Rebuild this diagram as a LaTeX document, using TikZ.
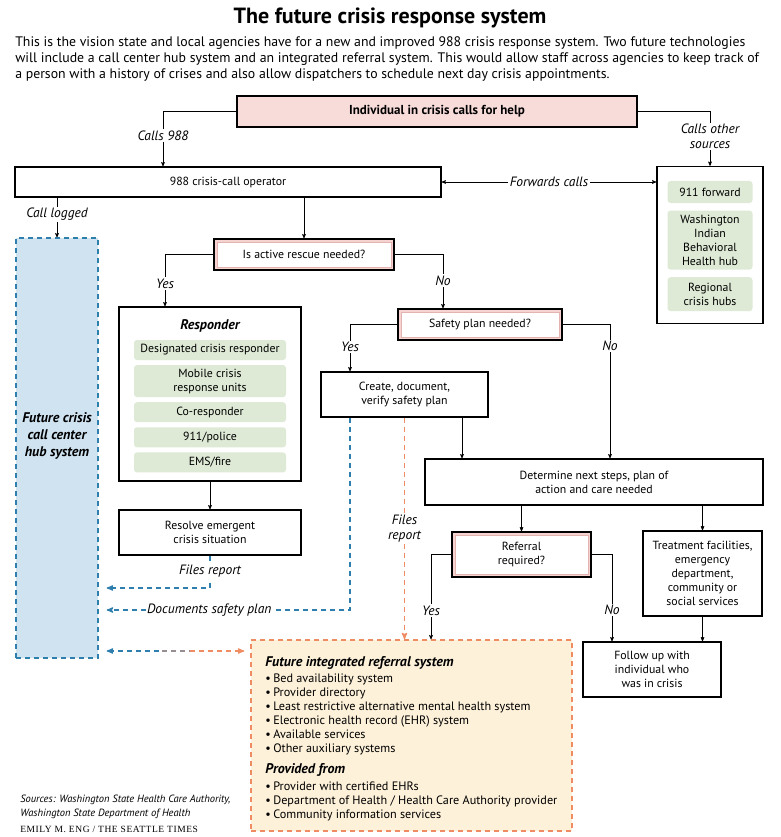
\documentclass[tikz,border=0pt]{standalone}
\usepackage{fontspec}
\setmainfont{PT Sans}
\newfontfamily\credfont[LetterSpace=6]{Liberation Serif}
\usepackage{xcolor}
\usetikzlibrary{shapes.geometric, arrows}
\usetikzlibrary{positioning,calc}

\definecolor{callpink}{HTML}{F8DCDA}
\definecolor{bandpink}{HTML}{F5D3D0}
\definecolor{bandline}{HTML}{E4B3B0}
\definecolor{itemgreen}{HTML}{DEEAD6}
\definecolor{hubblue}{HTML}{CFE3F1}
\definecolor{dashblue}{HTML}{2F7FAE}
\definecolor{dashorange}{HTML}{EF8C63}
\definecolor{refyellow}{HTML}{FDF1DA}
\definecolor{midgray}{HTML}{978E93}

\newcommand{\boxfont}{\fontsize{11.8}{14}\selectfont}
\newcommand{\lblfont}{\fontsize{13.5}{15}\selectfont\itshape}
\newcommand{\headfont}{\fontsize{14}{17}\selectfont\bfseries\itshape}
\newcommand{\bul}{\makebox[8pt][l]{•}}

\begin{document}
\begin{tikzpicture}[->,>=stealth',semithick,x=1pt,y=-1pt]
	\tikzstyle{every node}=[font=\boxfont]
	\tikzstyle{box}=[draw=black,line width=1.4pt,fill=white,align=center,inner sep=2pt]
	\tikzstyle{ask}=[box,fill=bandpink,path picture={\draw[-,draw=bandline,fill=white,line width=0.6pt] ([shift={(3pt,-3pt)}]path picture bounding box.north west) rectangle ([shift={(-3pt,3pt)}]path picture bounding box.south east);}]
	\tikzstyle{item}=[fill=itemgreen,rounded corners=3pt,align=center,inner sep=1pt]
	\tikzstyle{lbl}=[font=\lblfont,text=black,fill=white,inner sep=1.5pt,align=center]
	\tikzstyle{bluedash}=[dashblue,line width=1.3pt,dash pattern=on 5pt off 4pt]
	\tikzstyle{orangedash}=[dashorange,line width=1.3pt,dash pattern=on 5pt off 4pt]
	\useasboundingbox (0,0) rectangle (780,837);

	% title and intro
	\node[font=\fontsize{22}{25}\selectfont\bfseries] (Title) at (390,18) {The future crisis response system};
	\node[anchor=north west,align=left,inner sep=0pt,font=\fontsize{13.8}{16}\selectfont] (Intro) at (15,36)
		{This is the vision state and local agencies have for a new and improved 988 crisis response system. Two future technologies\\
		will include a call center hub system and an integrated referral system. This would allow staff across agencies to keep track of\\
		a person with a history of crises and also allow dispatchers to schedule next day crisis appointments.};

	% main boxes
	\node[box,fill=callpink,minimum width=400pt,minimum height=31pt,font=\fontsize{13}{15}\selectfont\bfseries] (Call) at (437,111.5) {Individual in crisis calls for help};
	\node[box,minimum width=426pt,minimum height=30pt] (Op) at (228,182) {988 crisis-call operator};
	\node[box,minimum width=106pt,minimum height=157pt] (Hubs) at (710,245) {};
	\node[item,minimum width=85pt,minimum height=22pt] (H1) at (710,192) {911 forward};
	\node[item,minimum width=85pt,minimum height=59pt,below=7pt of H1] (H2) {Washington\\Indian\\Behavioral\\Health hub};
	\node[item,minimum width=85pt,minimum height=34pt,below=7pt of H2] (H3) {Regional\\crisis hubs};

	\node[draw=dashblue,fill=hubblue,line width=1.3pt,dash pattern=on 5pt off 4pt,minimum width=82pt,minimum height=420pt] (Hub) at (57,448) {};
	\node[font=\headfont,align=center,fill=hubblue,inner sep=1pt] (HubT) at (57,436) {Future crisis\\call center\\hub system};

	\node[ask,minimum width=180pt,minimum height=31pt] (Rescue) at (304,254.5) {Is active rescue needed?};
	\node[box,minimum width=182pt,minimum height=174pt] (Resp) at (210,394) {};
	\node[font=\headfont] (RespT) at (210,326) {Responder};
	\node[item,minimum width=152pt,minimum height=20pt] (R1) at (210,350) {Designated crisis responder};
	\node[item,minimum width=152pt,minimum height=32pt,below=4.5pt of R1] (R2) {Mobile crisis\\response units};
	\node[item,minimum width=152pt,minimum height=20pt,below=4.5pt of R2] (R3) {Co-responder};
	\node[item,minimum width=152pt,minimum height=20pt,below=4.5pt of R3] (R4) {911/police};
	\node[item,minimum width=152pt,minimum height=20pt,below=4.5pt of R4] (R5) {EMS/fire};
	\node[box,minimum width=182pt,minimum height=45pt] (Resolve) at (210,532.5) {Resolve emergent\\crisis situation};

	\node[ask,minimum width=164pt,minimum height=31pt] (Safe) at (480,324.5) {Safety plan needed?};
	\node[box,minimum width=167pt,minimum height=45pt] (Create) at (404.5,394.5) {Create, document,\\verify safety plan};
	\node[box,minimum width=338pt,minimum height=46pt] (Det) at (594,482) {Determine next steps, plan of\\action and care needed};
	\node[ask,minimum width=139pt,minimum height=45pt] (Refq) at (521.5,554.5) {Referral\\required?};
	\node[box,minimum width=119pt,minimum height=85pt] (Treat) at (702.5,573.5) {Treatment facilities,\\emergency\\department,\\community or\\social services};
	\node[box,minimum width=138pt,minimum height=55pt] (Follow) at (652,669.5) {Follow up with\\individual who\\was in crisis};

	% referral system
	\node[draw=dashorange,fill=refyellow,line width=1.3pt,dash pattern=on 5pt off 4pt,minimum width=321pt,minimum height=191pt] (Ref) at (411.5,735.5) {};
	\node[anchor=north west,align=left,inner sep=0pt,font=\fontsize{12.2}{14}\selectfont] (RefT) at (265,656)
		{{\headfont Future integrated referral system}\\[2pt]
		\bul Bed availability system\\
		\bul Provider directory\\
		\bul Least restrictive alternative mental health system\\
		\bul Electronic health record (EHR) system\\
		\bul Available services\\
		\bul Other auxiliary systems\\[7pt]
		{\headfont Provided from}\\[3pt]
		\bul Provider with certified EHRs\\
		\bul Department of Health / Health Care Authority provider\\
		\bul Community information services};

	% credits
	\node[anchor=west,align=left,inner sep=0pt,font=\fontsize{10.5}{14}\selectfont\itshape] (Src) at (20,807) {Sources: Washington State Health Care Authority,\\Washington State Department of Health};
	\node[anchor=west,inner sep=0pt,font=\fontsize{9.5}{10}\selectfont\credfont] (Cred) at (20,829) {EMILY M. ENG / THE SEATTLE TIMES};

	% solid connectors
	\draw (Call.west) -| ([xshift=-65pt]Op.north) node[pos=0.72,lbl] {Calls 988};
	\draw (Call.east) -| (Hubs.north) node[pos=0.73,lbl] {Calls other\\sources};
	\draw[<->] (Op.east) -- (Op.east -| Hubs.west) node[midway,lbl] {Forwards calls};
	\draw (Op.south -| Hub.north) -- (Hub.north) node[pos=0.42,lbl] {Call logged};
	\draw (Op.south -| Rescue.north) -- (Rescue.north);
	\draw (Rescue.west) -| ([xshift=-45pt]Resp.north) node[pos=0.78,lbl] {Yes};
	\draw (Rescue.east) -| ([xshift=-37pt]Safe.north) node[pos=0.74,lbl] {No};
	\draw (Safe.west) -| ([xshift=-54.5pt]Create.north) node[pos=0.74,lbl] {Yes};
	\draw (Safe.east) -| ([xshift=16pt]Det.north) node[pos=0.58,lbl] {No};
	\draw (Resp.south) -- (Resolve.north);
	\coordinate (c1) at ([xshift=57.5pt]Create.south);
	\draw (c1) -- (c1 |- Det.north);
	\draw (Det.south -| Refq.north) -- (Refq.north);
	\draw (Det.south -| Treat.north) -- (Treat.north);
	\draw (Refq.west) -| ([xshift=19.5pt]Ref.north) node[pos=0.83,lbl] {Yes};
	\draw (Refq.east) -| ([xshift=-40pt]Follow.north) node[pos=0.82,lbl] {No};
	\draw (Treat.south) -- (Treat.south |- Follow.north);

	% dashed reports
	\draw[bluedash,shorten >=8pt] (Resolve.south) |- (Hub.east |- 0,588) node[pos=0.24,lbl] {Files report};
	\coordinate (c2) at ([xshift=-54.5pt]Create.south);
	\draw[bluedash,shorten >=8pt] (c2) |- (Hub.east |- 0,610) node[pos=0.78,lbl] {Documents safety plan};
	\draw[orangedash] (Create.south) -- (Create.south |- Ref.north) node[pos=0.5,lbl] {Files\\report};
	\coordinate (m1) at (Hub.east |- 0,651);
	\coordinate (m2) at (Ref.west |- 0,651);
	\draw[bluedash,<-,shorten <=8pt] (m1) -- ($(m1)!0.42!(m2)$);
	\draw[-,midgray,line width=1.3pt,dash pattern=on 5pt off 4pt] ($(m1)!0.42!(m2)$) -- ($(m1)!0.6!(m2)$);
	\draw[orangedash,shorten >=6pt] ($(m1)!0.6!(m2)$) -- (m2);
\end{tikzpicture}
\end{document}
